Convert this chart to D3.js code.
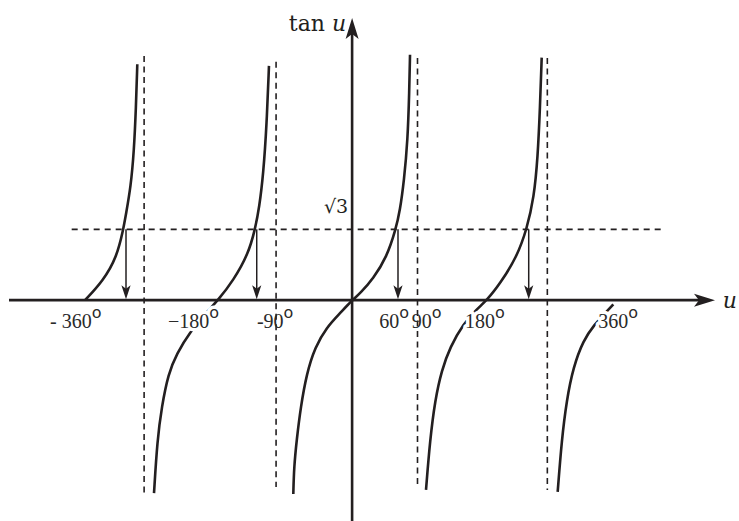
<!DOCTYPE html>
<html>
<head>
<meta charset="utf-8">
<script src="https://cdn.jsdelivr.net/npm/d3@7"></script>
<style>
  html, body { margin: 0; padding: 0; background: #fff; }
  svg { display: block; }
</style>
</head>
<body>
<div id="graph"></div>
<script>
const width = 739;
const height = 521;
const ink = "#231f20";

// Branches of tan u as [degrees, tan u]
const branch1 = [[-364.3, 0], [-339.4, 0.48], [-321.1, 1.05], [-312.1, 1.73], [-308.4, 2.11],
  [-302.0, 2.76], [-297.5, 3.65], [-294.8, 4.71], [-293.0, 5.77]];
const branch2 = [[-270.2, -4.72], [-265.7, -3.42], [-259.7, -2.61], [-250.7, -1.80], [-239.2, -1.31],
  [-221.1, -0.78], [-198.3, -0.29], [-182.9, 0], [-162.0, 0.48], [-141.6, 1.13], [-132.4, 1.73],
  [-126.6, 2.27], [-121.1, 3.08], [-116.5, 4.30], [-113.4, 5.73]];
const branch3 = [[-80.2, -4.74], [-79.2, -4.08], [-75.6, -3.42], [-70.1, -2.61], [-61.9, -1.79],
  [-50.6, -1.15], [-34.6, -0.66], [-16.5, -0.32], [0, 0], [10.8, 0.16], [28.9, 0.53], [47.2, 1.05],
  [59.5, 1.73], [65.3, 2.19], [70.8, 2.92], [75.8, 3.90], [78.0, 5.12], [79.0, 6.0]];
const branch4 = [[100.8, -4.64], [106.3, -3.42], [113.1, -2.45], [122.2, -1.71], [133.6, -1.15],
  [151.7, -0.58], [170.0, -0.22], [184.0, 0], [201.7, 0.40], [224.5, 1.05], [238.2, 1.73],
  [248.1, 2.51], [253.2, 3.49], [256.3, 4.71], [258.6, 5.93]];
const branch5 = [[280.4, -4.69], [285.9, -3.42], [292.7, -2.44], [301.7, -1.64], [315.4, -0.98],
  [330.4, -0.60], [345.0, -0.32], [356.3, -0.10]];
const branches = [branch1, branch2, branch3, branch4, branch5];

// Dashed asymptotes (degrees) and their drawn extent in tan units
const asymptoteAt = [-283.7, -103.7, 89.2, 266.3];
const asymptoteTop = [5.97, 5.83, 5.92, 5.92];
const asymptoteBottom = [-4.72, -4.57, -4.50, -4.64];

// Level tan u = sqrt(3) and the solutions marked with arrows
const rootLevel = Math.sqrt(3);
const levelFrom = -382.5;
const levelTo = 424.1;
const solutionAt = [-308.4, -130.1, 62.6, 240.9];

// Tick labels on the u axis (text, degrees where the label starts)
const tickText = ["- 360", "\u2212180", "-90", "60", "90", "180", "360"];
const tickAt = [-412.1, -251.1, -129.8, 37.1, 81.3, 154.0, 335.8];

const svg = d3
  .select("#graph")
  .append("svg")
  .attr("width", width)
  .attr("height", height);

const x = d3.scaleLinear().domain([-468, 495]).range([9, 715]);
const y = d3.scaleLinear().domain([-5.4, 6.9]).range([521, 18]);

const line = d3
  .line()
  .x((d) => x(d[0]))
  .y((d) => y(d[1]))
  .curve(d3.curveBasis);

// Draw the curve
svg
  .append("g")
  .selectAll("path")
  .data(branches)
  .join("path")
  .attr("d", line)
  .attr("fill", "none")
  .attr("stroke", ink)
  .attr("stroke-width", 2.6);

// Tick labels, drawn twice: white halo first (cuts the curves), ink last
function drawLabels(g, halo) {
  const labels = g
    .selectAll("text")
    .data(tickText)
    .join("text")
    .attr("x", (d, i) => x(tickAt[i]))
    .attr("y", y(0) + 28)
    .attr("font-family", "'Liberation Serif', 'DejaVu Serif', serif")
    .attr("font-size", 20)
    .attr("fill", halo ? "#fff" : "#2a2a2a");
  if (halo) {
    labels
      .attr("stroke", "#fff")
      .attr("stroke-width", 7)
      .attr("stroke-linejoin", "round");
  }
  labels.append("tspan").text((d) => d);
  labels
    .append("tspan")
    .attr("font-family", "'DejaVu Sans', sans-serif")
    .attr("font-size", 16)
    .attr("dy", -10)
    .text("o");
}
drawLabels(svg.append("g"), true);

// Dashed asymptotes
svg
  .append("g")
  .selectAll("line")
  .data(asymptoteAt)
  .join("line")
  .attr("x1", (d) => x(d))
  .attr("x2", (d) => x(d))
  .attr("y1", (d, i) => y(asymptoteTop[i]))
  .attr("y2", (d, i) => y(asymptoteBottom[i]))
  .attr("stroke", ink)
  .attr("stroke-width", 1.6)
  .attr("stroke-dasharray", "6,4.5");

// Dashed level sqrt(3)
svg
  .append("line")
  .attr("x1", x(levelFrom))
  .attr("x2", x(levelTo))
  .attr("y1", y(rootLevel))
  .attr("y2", y(rootLevel))
  .attr("stroke", ink)
  .attr("stroke-width", 1.6)
  .attr("stroke-dasharray", "6,5");

// Arrows down to the solutions
const arrows = svg.append("g").selectAll("g").data(solutionAt).join("g");
arrows
  .append("line")
  .attr("x1", (d) => x(d))
  .attr("x2", (d) => x(d))
  .attr("y1", y(rootLevel))
  .attr("y2", y(0) - 8)
  .attr("stroke", ink)
  .attr("stroke-width", 1.5);
arrows
  .append("path")
  .attr("transform", (d) => `translate(${x(d)},${y(0) - 1})`)
  .attr("d", "M0,0L-4.6,-14L0,-10.5L4.6,-14Z")
  .attr("fill", ink);

// Axes with arrow heads
const head = "M0,0L-21,-6.5L-16,0L-21,6.5Z";
svg
  .append("line")
  .attr("x1", x.range()[0])
  .attr("x2", x.range()[1] - 12)
  .attr("y1", y(0))
  .attr("y2", y(0))
  .attr("stroke", ink)
  .attr("stroke-width", 2.6);
svg
  .append("path")
  .attr("transform", `translate(${x.range()[1]},${y(0)})`)
  .attr("d", head)
  .attr("fill", ink);
svg
  .append("line")
  .attr("x1", x(0))
  .attr("x2", x(0))
  .attr("y1", y.range()[0])
  .attr("y2", y.range()[1] + 12)
  .attr("stroke", ink)
  .attr("stroke-width", 2.6);
svg
  .append("path")
  .attr("transform", `translate(${x(0)},${y.range()[1]}) rotate(-90)`)
  .attr("d", head)
  .attr("fill", ink);

drawLabels(svg.append("g"), false);

// Axis titles and the sqrt(3) mark
const title = svg
  .append("text")
  .attr("x", x(0) - 6)
  .attr("y", 31)
  .attr("text-anchor", "end")
  .attr("font-family", "'DejaVu Serif', serif")
  .attr("font-size", 22)
  .attr("fill", ink);
title.append("tspan").text("tan ");
title.append("tspan").attr("font-style", "italic").text("u");

svg
  .append("text")
  .attr("x", width - 2)
  .attr("y", y(0) + 8)
  .attr("text-anchor", "end")
  .attr("font-family", "'DejaVu Serif', serif")
  .attr("font-style", "italic")
  .attr("font-size", 22)
  .attr("fill", ink)
  .text("u");

svg
  .append("text")
  .attr("x", x(0) - 4)
  .attr("y", y(rootLevel) - 16)
  .attr("text-anchor", "end")
  .attr("font-family", "'DejaVu Serif', serif")
  .attr("font-size", 19)
  .attr("fill", ink)
  .text("\u221a3");
</script>
</body>
</html>
